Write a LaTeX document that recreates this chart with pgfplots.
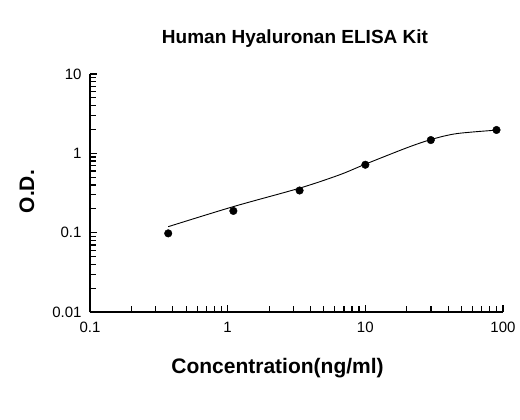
\documentclass[border=0pt]{standalone}
\usepackage{fontspec}
\setmainfont{Liberation Sans}
\usepackage{pgfplots}
\pgfplotsset{compat=1.18}

\begin{document}
\begin{tikzpicture}
% fixed page size, 520 x 420
\path (0bp,0bp) rectangle (520bp,420bp);
\begin{axis}[
    at={(90bp,108bp)}, anchor=south west,
    scale only axis,
    width=413bp, height=238bp,
    xmode=log, ymode=log,
    xmin=0.1, xmax=100, ymin=0.01, ymax=10,
    axis lines*=left,
    axis line style={line width=1.5bp, -},
    log ticks with fixed point,
    /pgf/number format/assume math mode=true,
    xtick align=inside, ytick align=inside,
    major tick length=7bp, minor tick length=6bp,
    major tick style={black, line width=1.2bp},
    minor tick style={black, line width=1.2bp},
    tick label style={font=\fontsize{15bp}{18bp}\selectfont},
    xticklabel style={yshift=-7bp},
    yticklabel style={xshift=-5bp},
    clip=false,
]
% fitted curve
\addplot[black, line width=0.9bp, smooth, no marks] coordinates {
    (0.37,0.119) (1.1,0.213) (3.33,0.364) (6.5,0.536) (10,0.73)
    (19.9,1.17) (29.9,1.49) (45.8,1.77) (89.3,1.96)
};
% measured points
\addplot[only marks, mark=*, mark size=3.8bp, black] coordinates {
    (0.37,0.098) (1.1,0.188) (3.33,0.34) (10,0.718) (29.9,1.47) (89.7,1.97)
};
\end{axis}
\node[anchor=base, font=\fontsize{19bp}{22bp}\selectfont\bfseries] at (295bp,376bp) {Human Hyaluronan ELISA Kit};
\node[anchor=base, font=\fontsize{21bp}{24bp}\selectfont\bfseries] at (277.5bp,46.5bp) {Concentration(ng/ml)};
\node[anchor=base, rotate=90, font=\fontsize{21bp}{24bp}\selectfont\bfseries] at (34bp,228.3bp) {O.D.};
\end{tikzpicture}
\end{document}
